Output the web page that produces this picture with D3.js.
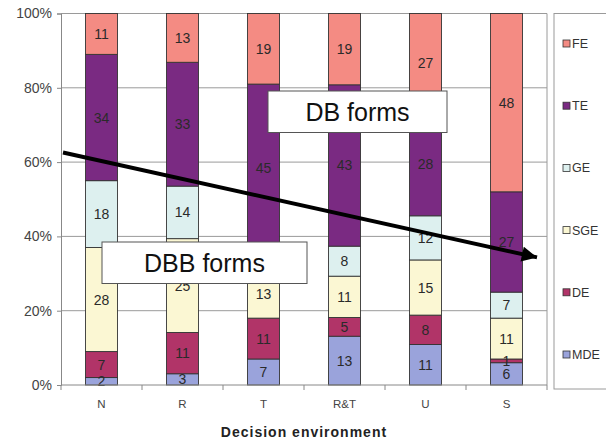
<!DOCTYPE html>
<html><head><meta charset="utf-8">
<script src="https://cdn.jsdelivr.net/npm/d3@7/dist/d3.min.js"></script>
<style>body{margin:0;background:#fff}svg{display:block;font-family:"Liberation Sans",Arial,sans-serif}</style>
</head><body><svg id="c" width="606" height="443"></svg>
<script>
const categories = ["N","R","T","R&T","U","S"];
const seriesNames = ["MDE","DE","SGE","GE","TE","FE"];
const MDE = [2,3,7,13,11,6];
const DE  = [7,11,11,5,8,1];
const SGE = [28,25,13,11,15,11];
const GE  = [18,14,5,8,12,7];
const TE  = [34,33,45,43,28,27];
const FE  = [11,13,19,19,27,48];
const yTicks = [0,0.2,0.4,0.6,0.8,1];
const colors = {MDE:"#9aa3db",DE:"#b13468",SGE:"#fbf7d3",GE:"#ddf0ef",TE:"#7a2a82",FE:"#f48b83"};
const seriesVals = {MDE,DE,SGE,GE,TE,FE};
const labelsBoxes = [{text:"DB forms"},{text:"DBB forms"}];

const rows = categories.map((c,i)=>{const r={cat:c};seriesNames.forEach(s=>r[s]=seriesVals[s][i]);return r;});
const svg = d3.select("#c");
const m = {l:61,r:547,t:13.5,b:385};
const x = d3.scaleBand().domain(categories).range([m.l,m.r]).paddingInner(0.605).paddingOuter(0.3025);
const y = d3.scaleLinear().domain([0,1]).range([m.b,m.t]);

// gridlines
svg.append("g").selectAll("line").data(yTicks.filter(d=>d>0)).join("line")
  .attr("x1",m.l).attr("x2",m.r).attr("y1",d=>y(d)).attr("y2",d=>y(d))
  .attr("stroke","#9a9a9a").attr("stroke-width",1);
svg.append("line").attr("x1",m.r).attr("x2",m.r).attr("y1",m.t).attr("y2",m.b).attr("stroke","#9a9a9a");

const stack = d3.stack().keys(seriesNames).offset(d3.stackOffsetExpand);
const layers = stack(rows);
const g = svg.append("g");
layers.forEach(layer=>{
  const key = layer.key;
  g.selectAll(null).data(layer).join("rect")
   .attr("x",d=>x(d.data.cat)).attr("width",x.bandwidth())
   .attr("y",d=>y(d[1])).attr("height",d=>y(d[0])-y(d[1]))
   .attr("fill",colors[key]).attr("stroke","#333").attr("stroke-width",0.9);
});
layers.forEach(layer=>{
  g.selectAll(null).data(layer).join("text")
   .attr("x",d=>x(d.data.cat)+x.bandwidth()/2)
   .attr("y",d=>y((d[0]+d[1])/2)+5)
   .attr("text-anchor","middle").attr("font-size",14).attr("fill","#2a2a2a")
   .text(d=>d.data[layer.key]);
});

// y axis
const ya = d3.axisLeft(y).tickValues(yTicks).tickFormat(d3.format(".0%")).tickSize(4).tickPadding(5);
const yg = svg.append("g").attr("transform",`translate(${m.l},0)`).call(ya);
yg.select(".domain").attr("stroke","#888");
yg.selectAll(".tick line").attr("stroke","#888");
yg.selectAll("text").attr("font-size",14).attr("fill","#444").attr("font-family","Liberation Sans, Arial");
// x axis
const xg = svg.append("g").attr("transform",`translate(0,${m.b})`);
xg.append("line").attr("x1",m.l).attr("x2",m.r).attr("stroke","#888");
const step = x.step();
xg.selectAll(".tk").data(d3.range(categories.length+1)).join("line")
  .attr("x1",i=>m.l+i*step).attr("x2",i=>m.l+i*step).attr("y1",0).attr("y2",5).attr("stroke","#888");
xg.selectAll(".lb").data(categories).join("text")
  .attr("x",d=>x(d)+x.bandwidth()/2).attr("y",23).attr("text-anchor","middle")
  .attr("font-size",11.5).attr("fill","#444").text(d=>d);
svg.append("text").attr("x",304).attr("y",437).attr("text-anchor","middle")
  .attr("font-size",14).attr("font-weight","bold").attr("letter-spacing",1).attr("fill","#222")
  .text("Decision environment");

// legend
svg.append("rect").attr("x",554).attr("y",13.5).attr("width",60).attr("height",375.5)
  .attr("fill","#fff").attr("stroke","#9a9a9a");
const legOrder = seriesNames.slice().reverse();
const lg = svg.append("g").selectAll("g").data(legOrder).join("g")
  .attr("transform",(d,i)=>`translate(563,${44+i*62.2})`);
lg.append("rect").attr("x",0).attr("y",-4).attr("width",7).attr("height",7)
  .attr("fill",d=>colors[d]).attr("stroke","#333").attr("stroke-width",0.8);
lg.append("text").attr("x",9).attr("y",4).attr("font-size",12.5).attr("fill","#333").text(d=>d);

// text boxes
const boxG = svg.append("g");
function box(b,x0,y0,x1,y1){
  boxG.append("rect").attr("x",x0).attr("y",y0).attr("width",x1-x0).attr("height",y1-y0)
    .attr("fill","#fff").attr("stroke","#555").attr("stroke-width",1);
  boxG.append("text").attr("x",(x0+x1)/2).attr("y",(y0+y1)/2+9).attr("text-anchor","middle")
    .attr("font-size",25).attr("fill","#111").text(b.text);
}
box(labelsBoxes[0],268,91,447,132.5);
box(labelsBoxes[1],102,242,307,283.5);

// arrow
const defs = svg.append("defs");
defs.append("marker").attr("id","ah").attr("viewBox","0 0 10 10").attr("refX",10).attr("refY",5)
  .attr("markerWidth",4).attr("markerHeight",3.8).attr("orient","auto").attr("markerUnits","strokeWidth")
  .append("path").attr("d","M0,0L10,5L0,10Z").attr("fill","#000");
svg.append("line").attr("x1",63).attr("y1",152.5).attr("x2",537).attr("y2",257.4)
  .attr("stroke","#000").attr("stroke-width",4).attr("marker-end","url(#ah)");
</script></body></html>
